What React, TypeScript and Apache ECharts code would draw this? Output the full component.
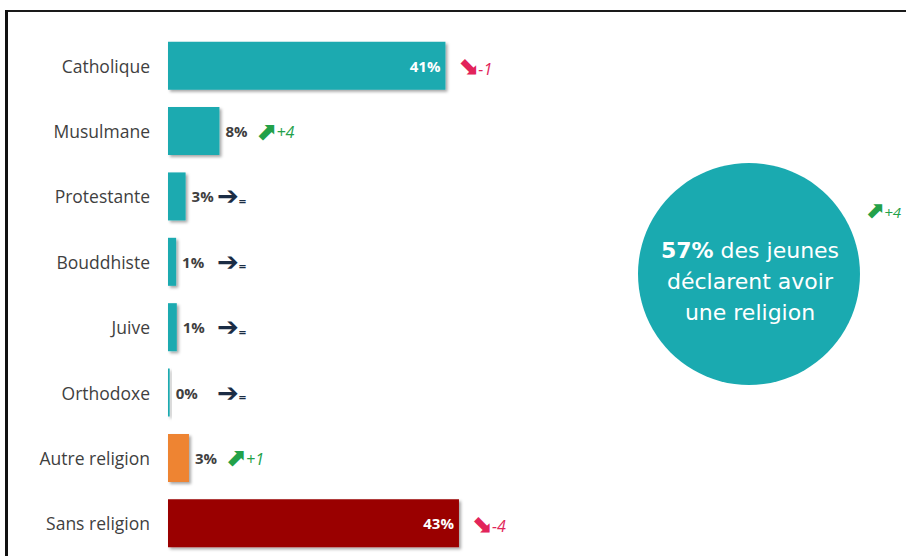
import React, { useEffect, useRef } from "react";
import * as echarts from "echarts";

// ---- Data ----
const categories = [
  "Catholique",
  "Musulmane",
  "Protestante",
  "Bouddhiste",
  "Juive",
  "Orthodoxe",
  "Autre religion",
  "Sans religion",
];
const values = [41, 7.6, 2.6, 1.2, 1.3, 0.25, 3.1, 43];
const valueLabels = ["41%", "8%", "3%", "1%", "1%", "0%", "3%", "43%"];
const trends = ["-1", "+4", "=", "=", "=", "=", "+1", "-4"];
const shareWithReligion = "57%";
const shareTrend = "+4";
const circleLines = ["des jeunes", "déclarent avoir", "une religion"];

// ---- Layout / style constants ----
const W = 906;
const H = 556;
const GRID_LEFT = 168;
const X_MAX = 60;
const GRID_W = 406;
const PX_PER = GRID_W / X_MAX;
const LABEL_DIST = 6;
const EQ_ARROW_X = 217;

const TEAL = "#1aaab0";
const ORANGE = "#ee8432";
const DARK_RED = "#9a0000";
const RED = "#e2245a";
const GREEN = "#23a149";
const NAVY = "#1b2d45";
const TEXT = "#3f3f3f";

function barColor(name: string) {
  if (name === "Autre religion") return ORANGE;
  if (name === "Sans religion") return DARK_RED;
  return TEAL;
}

function trendRich(t: string) {
  if (t === "=") return "{eqA|➔}{eqT|=}";
  if (t.startsWith("-")) return "{dnA|⬊}{dnT|" + t + "}";
  return "{upA|⬈}{upT|" + t + "}";
}

const rich: any = {
  v: { fontFamily: "Open Sans", fontSize: 15, fontWeight: "bold", color: TEXT },
  dnA: { fontFamily: "DejaVu Sans", fontSize: 25, fontWeight: "bold", color: RED },
  dnT: { fontFamily: "Open Sans", fontSize: 16, fontStyle: "italic", color: RED, padding: [6, 0, 0, 0] },
  upA: { fontFamily: "DejaVu Sans", fontSize: 25, fontWeight: "bold", color: GREEN },
  upT: { fontFamily: "Open Sans", fontSize: 16, fontStyle: "italic", color: GREEN, padding: [2, 0, 0, 0] },
  eqA: { fontFamily: "DejaVu Sans", fontSize: 26, fontWeight: "bold", color: NAVY },
  eqT: { fontFamily: "Open Sans", fontSize: 13, fontWeight: "bold", color: NAVY, padding: [9, 0, 0, 0] },
};

export default function App() {
  const ref = useRef<HTMLDivElement>(null);

  useEffect(() => {
    if (!ref.current) return;
    const chart = echarts.init(ref.current, undefined, { renderer: "svg" });

    const mainData = values.map((v, i) => {
      const big = v > 20;
      const t = trends[i];
      let label: any;
      if (big) {
        label = {
          show: true,
          position: "insideRight",
          distance: 5,
          formatter: valueLabels[i],
          color: "#ffffff",
          fontFamily: "Open Sans",
          fontSize: 15,
          fontWeight: "bold",
        };
      } else {
        const start = GRID_LEFT + v * PX_PER + LABEL_DIST;
        const vWidth = t === "=" ? Math.max(24, EQ_ARROW_X - start) : undefined;
        const vStyle = { ...rich.v, width: vWidth, padding: t === "=" ? 0 : [0, 8, 0, 0] };
        label = {
          show: true,
          position: "right",
          distance: LABEL_DIST,
          formatter: "{v|" + valueLabels[i] + "}" + trendRich(t),
          rich: { ...rich, v: vStyle },
        };
      }
      return {
        value: v,
        itemStyle: { color: barColor(categories[i]) },
        label,
      };
    });

    const overlayData = values.map((v, i) => {
      const big = v > 20;
      return {
        value: v,
        label: big
          ? {
              show: true,
              position: "right",
              distance: 12,
              formatter: trendRich(trends[i]),
              rich,
            }
          : { show: false },
      };
    });

    const cx = 749;
    const cy = 274;

    chart.setOption({
      animation: false,
      backgroundColor: "#ffffff",
      grid: { left: GRID_LEFT, width: GRID_W, top: 33, bottom: 0, containLabel: false },
      xAxis: {
        type: "value",
        min: 0,
        max: X_MAX,
        show: false,
      },
      yAxis: {
        type: "category",
        data: categories,
        inverse: true,
        axisLine: { show: false },
        axisTick: { show: false },
        splitLine: { show: false },
        axisLabel: {
          margin: 18,
          color: TEXT,
          fontFamily: "Open Sans",
          fontSize: 17.5,
        },
      },
      series: [
        {
          type: "bar",
          data: mainData,
          barWidth: 48,
          itemStyle: {
            shadowColor: "rgba(0,0,0,0.35)",
            shadowBlur: 3,
            shadowOffsetX: 2,
            shadowOffsetY: 2,
          },
        },
        {
          type: "bar",
          data: overlayData,
          barWidth: 48,
          barGap: "-100%",
          silent: true,
          itemStyle: { color: "rgba(0,0,0,0)" },
        },
      ],
      graphic: [
        {
          type: "rect",
          shape: { x: 6, y: 10, width: W - 6, height: 2 },
          style: { fill: "#1a1a1a" },
          silent: true,
        },
        {
          type: "rect",
          shape: { x: 5, y: 10, width: 3, height: H - 10 },
          style: { fill: "#111111" },
          silent: true,
        },
        {
          type: "circle",
          shape: { cx, cy, r: 111 },
          style: { fill: TEAL },
          silent: true,
        },
        {
          type: "text",
          x: cx + 1,
          y: cy + 7,
          silent: true,
          style: {
            text:
              "{b|" + shareWithReligion + "}{n| " + circleLines[0] + "}\n{n|" +
              circleLines[1] + "}\n{n|" + circleLines[2] + "}",
            align: "center",
            verticalAlign: "middle",
            fill: "#ffffff",
            rich: {
              b: { fontFamily: "DejaVu Sans", fontWeight: "bold", fontSize: 22, fill: "#ffffff", lineHeight: 31 },
              n: { fontFamily: "DejaVu Sans", fontSize: 22, fill: "#ffffff", lineHeight: 31 },
            },
          },
        },
        {
          type: "text",
          x: 865,
          y: 210,
          silent: true,
          style: {
            text: "{a|⬈}{t|" + shareTrend + "}",
            verticalAlign: "middle",
            rich: {
              a: { fontFamily: "DejaVu Sans", fontSize: 23, fontWeight: "bold", fill: GREEN },
              t: { fontFamily: "Open Sans", fontSize: 15, fontStyle: "italic", fill: GREEN, padding: [3, 0, 0, 0] },
            },
          },
        },
      ],
    });

    return () => chart.dispose();
  }, []);

  return (
    <div
      ref={ref}
      style={{ position: "absolute", left: 0, top: 0, width: W, height: H }}
    />
  );
}
